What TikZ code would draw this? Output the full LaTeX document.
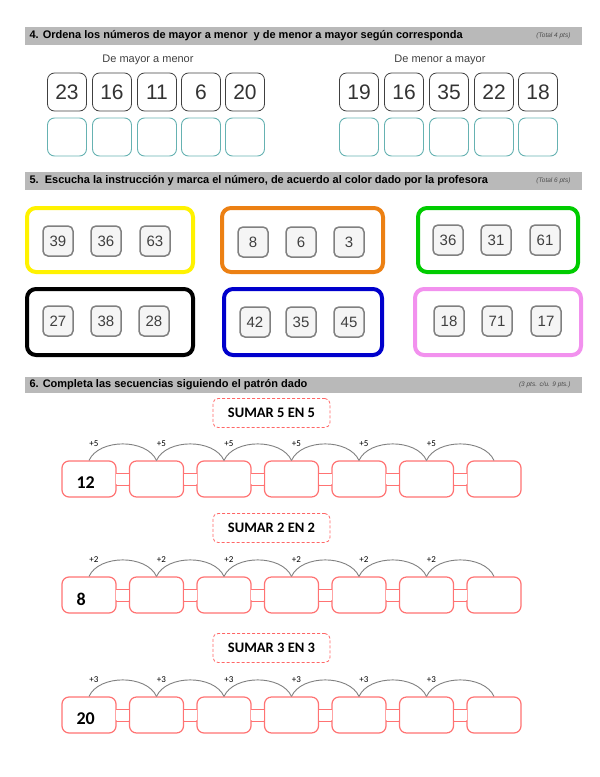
\documentclass[tikz,border=0pt]{standalone}
\usepackage{fontspec}
\setmainfont{Liberation Sans}
\newfontfamily\calib{Carlito}
\definecolor{pinkv}{HTML}{F291EE}
\begin{document}
\begin{tikzpicture}[x=1pt,y=-1pt,
  bar/.style={fill=gray!55,draw=none},
  numbox/.style={draw=black!75,rounded corners=7pt,minimum width=39pt,minimum height=38pt,font=\fontsize{21}{21}\selectfont,text=black!80,line width=0.8pt},
  ansbox/.style={draw=teal!60,rounded corners=7pt,minimum width=39pt,minimum height=38pt,line width=0.9pt},
  colbox/.style={rounded corners=9pt,line width=4pt,minimum width=166pt,minimum height=64pt},
  smallbox/.style={draw=gray,fill=gray!8,rounded corners=5pt,minimum width=30pt,minimum height=30pt,line width=1.5pt,font=\fontsize{15}{15}\selectfont,text=black!75},
  chainbox/.style={draw=red!55,rounded corners=7pt,minimum width=54pt,minimum height=36pt,line width=1.2pt,fill=white},
  titlebox/.style={draw=red!60,densely dashed,line width=0.8pt,rounded corners=5pt,minimum width=117pt,minimum height=29pt,font=\calib\bfseries\fontsize{14.5}{14.5}\selectfont},
  arc/.style={draw=gray,line width=0.9pt},
  plus/.style={font=\calib\fontsize{9}{9}\selectfont},
  head/.style={anchor=west,font=\bfseries\fontsize{11}{11}\selectfont}]
\useasboundingbox (0,0) rectangle (600,777);
% headers
\fill[bar] (25,27) rectangle (582,45);
\node[head] (h4) at (26,36) {4. Ordena los números de mayor a menor \ y de menor a mayor según corresponda};
\node[anchor=east,font=\itshape\fontsize{6.5}{6.5}\selectfont,text=black!70] (t4) at (574,36) {(Total 4 pts)};
\fill[bar] (25,172) rectangle (582,190);
\node[head] (h5) at (26,181) {5.\ \ Escucha la instrucción y marca el número, de acuerdo al color dado por la profesora};
\node[anchor=east,font=\itshape\fontsize{6.5}{6.5}\selectfont,text=black!70] (t5) at (574,181) {(Total 6 pts)};
\fill[bar] (25,377) rectangle (582,393);
\node[head] (h6) at (26,385) {6. Completa las secuencias siguiendo el patrón dado};
\node[anchor=east,font=\itshape\fontsize{6.5}{6.5}\selectfont,text=black!70] (t6) at (574,385) {(3 pts. c/u. 9 pts.)};
% section 4
\node[font=\fontsize{11}{11}\selectfont,text=black!75] (l1) at (148,60) {De mayor a menor};
\node[font=\fontsize{11}{11}\selectfont,text=black!75] (l2) at (440,60) {De menor a mayor};
\foreach \x/\n [count=\i] in {67/23,112/16,157/11,201/6,245/20}{
  \node[numbox] (a\i) at (\x,92) {\n};
  \node[ansbox] (b\i) at (\x,137) {};}
\foreach \x/\n [count=\i] in {359/19,404/16,449/35,494/22,538/18}{
  \node[numbox] (c\i) at (\x,92) {\n};
  \node[ansbox] (d\i) at (\x,137) {};}
% section 5
\node[colbox,draw=yellow] (y) at (110,240) {};
\node[colbox,draw=orange!70!brown,minimum width=161pt] (o) at (302.5,240) {};
\node[colbox,draw=green!80!black,minimum width=160pt] (g) at (498,240) {};
\node[colbox,draw=black,minimum height=66pt] (k) at (110,322) {};
\node[colbox,draw=blue!80!black,minimum width=158pt,minimum height=66pt] (bl) at (303,322) {};
\node[colbox,draw=pinkv,minimum height=66pt] (p) at (498,322) {};
\foreach \x/\n [count=\i] in {58/39,106/36,155/63}{\node[smallbox] (ys\i) at (\x,241) {\n};}
\foreach \x/\n [count=\i] in {253/8,301/6,349/3}{\node[smallbox] (os\i) at (\x,242) {\n};}
\foreach \x/\n [count=\i] in {448/36,496/31,545/61}{\node[smallbox] (gs\i) at (\x,240) {\n};}
\foreach \x/\n [count=\i] in {58/27,106/38,154/28}{\node[smallbox] (ks\i) at (\x,321) {\n};}
\foreach \x/\n [count=\i] in {255/42,301/35,349/45}{\node[smallbox] (bs\i) at (\x,322) {\n};}
\foreach \x/\n [count=\i] in {449/18,497/71,546/17}{\node[smallbox] (ps\i) at (\x,321) {\n};}
% section 6
\foreach \r/\ty/\cy/\step/\first in {1/413/479/5/12,2/528/595/2/8,3/648/715/3/20}{
  \node[titlebox] (tt\r) at (271.5,\ty) {SUMAR \step\ EN \step};
  \foreach \i in {0,...,5}{
    \fill[white,draw=red!55,line width=1pt] (114+\i*67.5,\cy-6) rectangle (131+\i*67.5,\cy+6);}
  \foreach \i in {0,...,6}{
    \node[chainbox] (s\r-\i) at (89+\i*67.5,\cy) {};}
  \foreach \i in {0,...,5}{
    \fill[white] (116+\i*67.5,\cy-5.3) rectangle (129+\i*67.5,\cy+5.3);}
  \node[font=\calib\bfseries\fontsize{18}{18}\selectfont,anchor=west] (f\r) at (73,\cy+4) {\first};
  \foreach \i [evaluate=\i as \j using int(\i+1)] in {0,...,5}{
    \draw[arc] (s\r-\i.north) .. controls +(10,-22) and +(-10,-22) .. (s\r-\j.north);
    \node[plus] (p\r-\i) at (94+\i*67.5,\cy-35) {+\step};}
}
\end{tikzpicture}
\end{document}
